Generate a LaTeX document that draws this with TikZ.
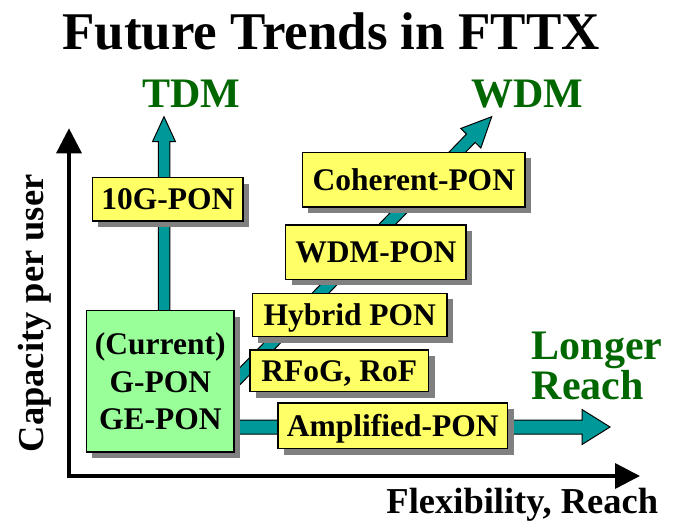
\documentclass[tikz,border=0pt]{standalone}
\usepackage{fontspec}
\setmainfont{Liberation Serif}
\usetikzlibrary{calc,arrows.meta,shadows}

\definecolor{boxyellow}{HTML}{FFFF66}
\definecolor{boxgreen}{HTML}{99FF99}
\definecolor{pipeteal}{HTML}{009999}
\definecolor{labelgreen}{HTML}{006600}
\definecolor{shadowgray}{HTML}{808080}

\newcommand{\boxfont}{\fontsize{31.5}{37.5}\selectfont\bfseries}
\newcommand{\trendfont}{\fontsize{42}{37.6}\selectfont\bfseries}
\newcommand{\axisfont}{\fontsize{36.5}{40}\selectfont\bfseries}

% block arrow: start, tip, half shaft width, half head width, head length
\newcommand{\blockarrow}[5]{%
  \coordinate (ba-base) at ($(#2)!#5!(#1)$);
  \draw[pipe] ($(#1)!#3!90:(#2)$) -- ($(ba-base)!#3!90:(#2)$)
    -- ($(ba-base)!#4!90:(#2)$) -- (#2) -- ($(ba-base)!#4!-90:(#2)$)
    -- ($(ba-base)!#3!-90:(#2)$) -- ($(#1)!#3!-90:(#2)$) -- cycle;
}

\tikzset{
  pipe/.style={fill=pipeteal, draw=black, line width=1pt, line join=miter},
  tech/.style={draw=black, line width=1.5pt, inner sep=0pt, font=\boxfont,
    drop shadow={shadow xshift=6pt, shadow yshift=-6pt, fill=shadowgray, opacity=1}},
  techbox/.style={tech, fill=boxyellow, text height=21pt, text depth=0pt},
  trend/.style={font=\trendfont, text=labelgreen, inner sep=0pt},
  axislabel/.style={font=\axisfont, inner sep=0pt},
  axisline/.style={line width=3.5pt, line join=miter,
    {Triangle[length=25pt,width=25pt]}-{Triangle[length=25pt,width=25pt]}},
}

\begin{document}
\begin{tikzpicture}[x=1pt, y=-1pt]
\useasboundingbox (0,0) rectangle (675,528);

% title
\node[font=\fontsize{53}{60}\selectfont\bfseries, anchor=base, inner sep=0pt]
  (title) at (331,49) {Future Trends in FTTX};

% axes
\coordinate (origin) at (69,476);
\coordinate (ytip) at (69,128.3);
\coordinate (xtip) at (640,476);
\draw[axisline] (ytip) -- (origin) -- (xtip);
\node[axislabel, rotate=90, anchor=base] (ylab) at (43.8,313.4) {Capacity per user};
\node[axislabel, anchor=base] (xlab) at (522.3,513.3) {Flexibility, Reach};

% trend labels (the base anchor of the two-line label sits on its last line)
\node[trend, anchor=base] (tdm) at (191.3,107) {TDM};
\node[trend, anchor=base] (wdm) at (527.3,107) {WDM};
\node[trend, anchor=base west, align=left] (reach) at (531.7,399.3) {Longer\\Reach};

% arrow tips and starts
\coordinate (tdmtip) at (164,116.7);
\coordinate (wdmtip) at (491.7,116.7);
\coordinate (reachtip) at (610,427);
\coordinate (tdmstart) at (164,318);
\coordinate (wdmstart) at (230,386.4);
\coordinate (reachstart) at (228,427);

% development paths
\blockarrow{tdmstart}{tdmtip}{5.75pt}{11.5pt}{25pt}
\blockarrow{wdmstart}{wdmtip}{6pt}{14pt}{30pt}
\blockarrow{reachstart}{reachtip}{7pt}{17.5pt}{28pt}

% current technology
\node[tech, fill=boxgreen, minimum width=147.8pt, minimum height=141.2pt, align=center]
  (current) at (160.3,381.3) {(Current)\\G-PON\\GE-PON};

% future technologies
\node[techbox, minimum width=150.8pt, minimum height=43.2pt] (tenG) at (167.8,199.3) {10G-PON};
\node[techbox, minimum width=222.8pt, minimum height=54.5pt] (coh) at (413.8,179.7) {Coherent-PON};
\node[techbox, minimum width=180.2pt, minimum height=54.5pt] (wdmpon) at (375.8,252) {WDM-PON};
\node[techbox, minimum width=194.5pt, minimum height=43.2pt] (hyb) at (349.7,315) {Hybrid PON};
\node[techbox, minimum width=178.8pt, minimum height=41.8pt] (rfog) at (339.2,370.7) {RFoG, RoF};
\node[techbox, minimum width=229.5pt, minimum height=45.5pt] (amp) at (392.8,425.8) {Amplified-PON};
\end{tikzpicture}
\end{document}
